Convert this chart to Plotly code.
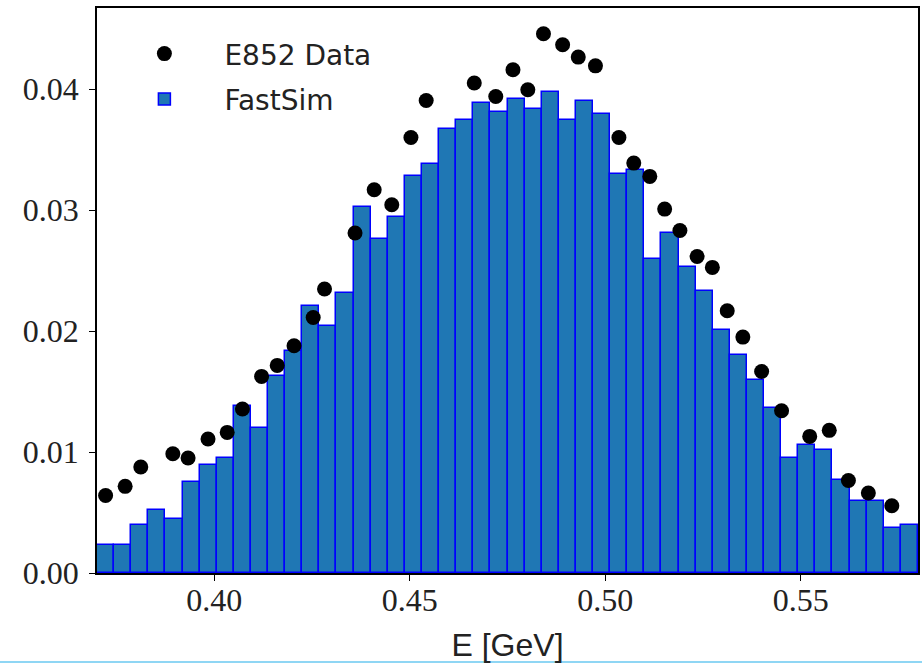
import numpy as np
import plotly.graph_objects as go

# ---- data ----
bin_lo = 0.37
bin_hi = 0.58
fastsim_heights = [
    0.00234, 0.00234, 0.00394, 0.00518, 0.00446, 0.00752, 0.00895, 0.00950,
    0.01377, 0.01200, 0.01631, 0.01831, 0.02203, 0.02044, 0.02314, 0.03025,
    0.02763, 0.02939, 0.03278, 0.03383, 0.03672, 0.03746, 0.03884, 0.03810,
    0.03922, 0.03835, 0.03978, 0.03746, 0.03903, 0.03794, 0.03296, 0.03333,
    0.02595, 0.02810, 0.02526, 0.02327, 0.02005, 0.01806, 0.01598, 0.01364,
    0.00950, 0.01060, 0.01019, 0.00771, 0.00592, 0.00592, 0.00372, 0.00394,
]
data_x = [
    0.3722, 0.3772, 0.3812, 0.3894, 0.3933, 0.3984, 0.4033, 0.4072,
    0.4121, 0.4161, 0.4204, 0.4253, 0.4282, 0.4360, 0.4409, 0.4454,
    0.4503, 0.4542, 0.4665, 0.4720, 0.4764, 0.4802, 0.4842, 0.4891,
    0.4931, 0.4975, 0.5035, 0.5073, 0.5114, 0.5152, 0.5191, 0.5235,
    0.5274, 0.5312, 0.5352, 0.5400, 0.5451, 0.5523, 0.5573, 0.5622,
    0.5673, 0.5733,
]
data_y = [
    0.00641, 0.00716, 0.00876, 0.00986, 0.00950, 0.01107, 0.01162, 0.01355,
    0.01625, 0.01716, 0.01878, 0.02112, 0.02347, 0.02810, 0.03168, 0.03044,
    0.03600, 0.03906, 0.04050, 0.03939, 0.04160, 0.03994, 0.04457, 0.04366,
    0.04264, 0.04192, 0.03600, 0.03388, 0.03278, 0.03008, 0.02831, 0.02616,
    0.02526, 0.02168, 0.01950, 0.01666, 0.01341, 0.01129, 0.01179, 0.00765,
    0.00661, 0.00556,
]
x_ticks = [0.40, 0.45, 0.50, 0.55]
y_ticks = [0.00, 0.01, 0.02, 0.03, 0.04]

n_bins = len(fastsim_heights)
edges = np.linspace(bin_lo, bin_hi, n_bins + 1)
centers = 0.5 * (edges[:-1] + edges[1:])
bw = edges[1] - edges[0]

fig = go.Figure()
fig.add_trace(go.Bar(
    x=centers, y=fastsim_heights, width=bw,
    marker=dict(color="#1f77b4", line=dict(color="#0000ff", width=1.5)),
    name="FastSim", legendgroup="b", legendrank=2,
))
fig.add_trace(go.Scatter(
    x=data_x, y=data_y, mode="markers",
    marker=dict(color="black", size=15),
    name="E852 Data", legendgroup="a", legendrank=1,
))

serif = "Liberation Serif"
fig.update_layout(
    width=922, height=663,
    margin=dict(l=97, r=4, t=8, b=90),
    plot_bgcolor="white", paper_bgcolor="white",
    bargap=0,
    showlegend=True,
    legend=dict(
        x=0.009, y=0.963, xanchor="left", yanchor="top",
        font=dict(family="DejaVu Sans", size=28, color="#222"),
        bgcolor="rgba(255,255,255,0)", itemwidth=110,
        traceorder="grouped", tracegroupgap=6,
    ),
    xaxis=dict(
        range=[bin_lo, bin_hi], tickvals=x_ticks, tickformat=".2f",
        ticks="outside", ticklen=6, tickcolor="black", tickwidth=1,
        showline=True, linecolor="black", linewidth=1.5, mirror=True,
        showgrid=False, zeroline=False, automargin=False,
        ticklabelstandoff=-8,
        tickfont=dict(family=serif, size=32, color="#222"),
        title=dict(text="E [GeV]", font=dict(family="Liberation Sans", size=32, color="#222"), standoff=16),
    ),
    yaxis=dict(
        range=[0, 0.0467], tickvals=y_ticks, tickformat=".2f",
        ticks="outside", ticklen=6, tickcolor="black", tickwidth=1,
        showline=True, linecolor="black", linewidth=1.5, mirror=True,
        showgrid=False, zeroline=False, ticklabelstandoff=4, automargin=False,
        tickfont=dict(family=serif, size=32, color="#222"),
    ),
)
fig.add_shape(type="line", xref="paper", yref="paper",
              x0=-0.2, x1=1.1, y0=-0.1575, y1=-0.1575,
              line=dict(color="#8fd6f4", width=2))
fig.write_html(
    "out.html",
    config={"displayModeBar": False},
    post_script="document.body.style.margin='0';document.body.style.overflow='hidden';",
)
